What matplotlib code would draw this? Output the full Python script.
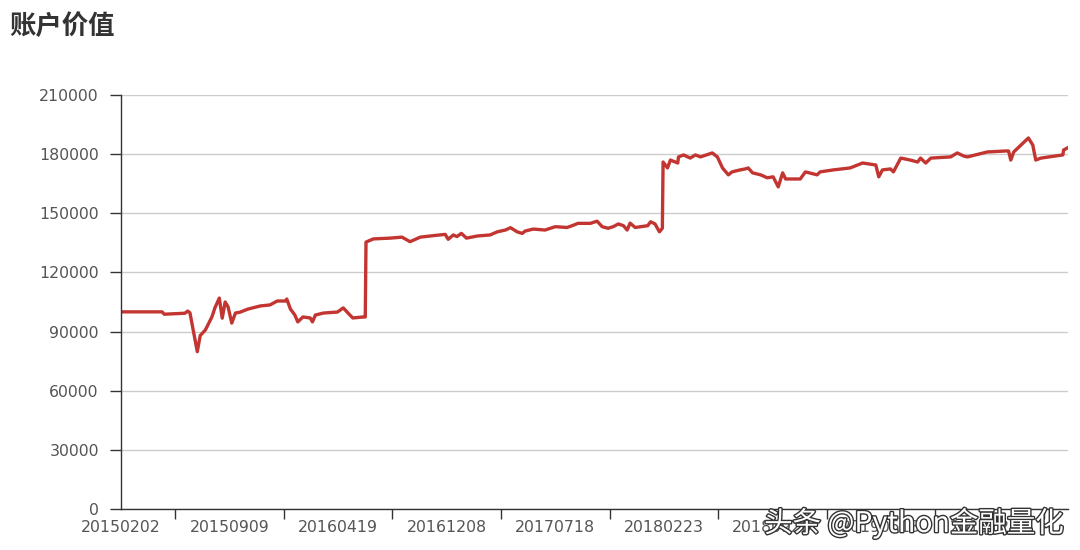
import matplotlib

matplotlib.use("Agg")
import matplotlib.pyplot as plt
import matplotlib.patheffects as pe

plt.rcParams["font.family"] = ["Noto Sans CJK SC", "DejaVu Sans"]

# account value, keyed by trading-day index
day_idx = [
    0, 56, 59, 87, 91, 94, 104, 108, 115, 124, 128, 134, 138, 142, 146, 151, 156, 162, 173,
    190, 203, 213, 224, 226, 231, 237, 241, 248, 258, 261, 265, 276, 295, 303, 312, 316,
    330, 333, 334, 344, 367, 383, 394, 408, 422, 442, 446, 453, 458, 464, 471, 486, 503,
    513, 524, 531, 540, 547, 551, 562, 578, 592, 608, 615, 623, 640, 649, 656, 664, 671,
    678, 685, 690, 694, 701, 718, 722, 728, 734, 738, 739, 745, 749, 759, 760, 767, 776,
    783, 790, 806, 813, 820, 828, 833, 844, 851, 855, 861, 872, 881, 889, 896, 902, 906,
    926, 933, 949, 953, 971, 994, 1011, 1029, 1033, 1038, 1049, 1053, 1063, 1076, 1086,
    1090, 1097, 1104, 1131, 1140, 1149, 1154, 1176, 1181, 1206, 1210, 1213, 1217, 1224,
    1237, 1243, 1247, 1254, 1265, 1284, 1285, 1290,
]
account_value = [
    100000, 100000, 98800, 99300, 100400, 99500, 79800, 88000, 90800, 97500, 102000, 107000,
    96800, 105000, 102500, 94300, 99400, 99800, 101400,
    103000, 103500, 105500, 105500, 106500, 101400, 98400, 94900, 97400, 96900, 94900,
    98400, 99400, 99900, 102000, 98400, 96900,
    97400, 97400, 135400, 137000, 137400, 137900, 135600, 137900, 138500, 139300, 136800,
    139000, 138200, 139800, 137400, 138500, 139000,
    140600, 141500, 142700, 140600, 139800, 141000, 142000, 141500, 143200, 142800, 143700,
    144900, 144900, 146000, 143200, 142400, 143200,
    144600, 143700, 141500, 145000, 142800, 143700, 145700, 144600, 140600, 142400, 176000,
    173000, 177000, 175500, 178600, 179600, 178000,
    179600, 178600, 180600, 178600, 173000, 169500, 171000, 172000, 172500, 173000, 170500,
    169500, 168000, 168500, 163400, 170500, 167400,
    167400, 171000, 169500, 171000, 172000, 173000, 175500, 174500, 168500, 172000, 172500,
    171000, 178000, 177000, 176000,
    178000, 175500, 178000, 178600, 180600, 179000, 178600, 180600, 181100, 181600, 181600,
    177000, 181100, 183600,
    188200, 184600, 177000, 178000, 178600, 179600, 182100, 183100,
]

n_days = 1292
label_step = 148
date_labels = [
    "20150202", "20150909", "20160419", "20161208", "20170718",
    "20180223", "20180928", "20190513", "20191219",
]
y_ticks = [0, 30000, 60000, 90000, 120000, 150000, 180000, 210000]

fig = plt.figure(figsize=(10.8, 5.5), dpi=100)
ax = fig.add_axes([121 / 1080, 41 / 550, 947 / 1080, 414 / 550])

ax.plot(day_idx, account_value, color="#c23531", linewidth=2.4, solid_joinstyle="round")

ax.set_xlim(0, n_days - 1)
ax.set_ylim(0, 210000)

label_pos = [k * label_step for k in range(len(date_labels))]
ax.set_xticks(label_pos)
ax.set_xticklabels(date_labels, family="DejaVu Sans")
ax.set_xticks([p + label_step / 2 for p in label_pos], minor=True)
ax.tick_params(axis="x", which="major", length=0, pad=8, labelsize=11.3, labelcolor="#555")
ax.tick_params(axis="x", which="minor", length=7, width=1, color="#333", direction="out")

ax.set_yticks(y_ticks)
ax.set_yticklabels([str(v) for v in y_ticks], family="DejaVu Sans")
ax.tick_params(axis="y", length=8, width=1, color="#333", pad=8, labelsize=11.3, labelcolor="#555")

ax.grid(axis="y", color="#cccccc", linewidth=1)
ax.set_axisbelow(True)
for side in ["top", "right"]:
    ax.spines[side].set_visible(False)
for side in ["left", "bottom"]:
    ax.spines[side].set_color("#333")
    ax.spines[side].set_linewidth(1)

fig.text(9 / 1080, 1 - 13 / 550, "账户价值", fontsize=19, fontweight="bold", color="#333",
         va="top")

wm = fig.text(1064 / 1080, 1 - 532 / 550, "头条 @Python金融量化", fontsize=20.5, ha="right",
              color="white")
wm.set_path_effects([pe.Stroke(linewidth=2, foreground="#333"), pe.Normal()])

fig.savefig("out.png", dpi=100)
